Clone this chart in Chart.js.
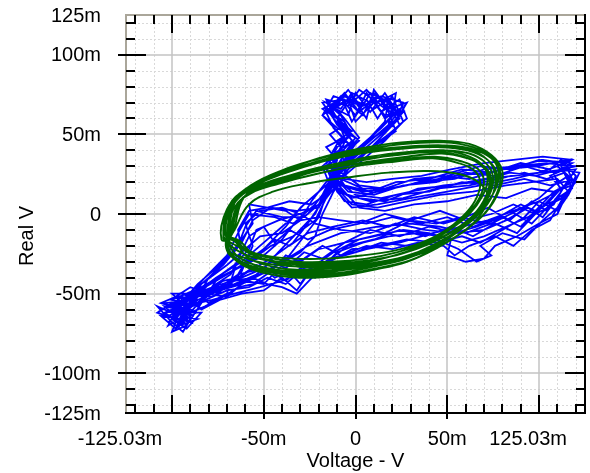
<!DOCTYPE html>
<html>
<head>
<meta charset="utf-8">
<script src="https://cdn.jsdelivr.net/npm/chart.js@4/dist/chart.umd.min.js"></script>
<style>
  html, body { margin: 0; padding: 0; background: #fff; }
  #wrap { width: 590px; height: 473px; position: relative; }
</style>
</head>
<body>
<div id="wrap"><canvas id="chart"></canvas></div>
<script>
// values in mV
const xRange = [-125.03, 125.03];
const yRange = [-125, 125];

const xMinorTicks = [-120, -110, -90, -80, -70, -60, -40, -30, -20, -10, 10, 20, 30, 40, 60, 70, 80, 90, 110, 120];
const xMajorTicks = [-100, -50, 0, 50, 100];
const xLabelValues = [-125.03, -50, 0, 50, 125.03];
const xLabelText = ['-125.03m', '-50m', '0', '50m', '125.03m'];

const yMinorTicks = [-120, -110, -90, -80, -70, -60, -40, -30, -20, -10, 10, 20, 30, 40, 60, 70, 80, 90, 110, 120];
const yMajorTicks = [-100, -50, 0, 50, 100];
const yLabelValues = [125, 100, 50, 0, -50, -100, -125];
const yLabelText = ['125m', '100m', '50m', '0', '-50m', '-100m', '-125m'];

// green trace, one array per turn
const green1 = [[-72,-14],[-68,6],[-58,17],[-42,26],[-20,35],[2,41],[25,45],[46,46],[62,44],[74,37],[80,27],[78,14],[71,1],[60,-10],[46,-20],[30,-29],[12,-34],[-8,-38],[-30,-39],[-49,-36],[-62,-31],[-70,-23]];
const green2 = [[-70,-12],[-66,7],[-56,17],[-40,25],[-18,33],[3,38],[25,41],[45,42],[61,40],[72,34],[77,25],[75,13],[68,1],[57,-10],[44,-19],[28,-27],[11,-32],[-9,-35],[-30,-36],[-48,-34],[-61,-29],[-68,-21]];
const green3 = [[-68,-10],[-63,8],[-52,16],[-36,22],[-15,29],[5,34],[26,38],[46,40],[60,37],[69,31],[72,22],[69,11],[62,0],[51,-10],[38,-18],[23,-24],[6,-28],[-13,-30],[-32,-30],[-49,-27],[-60,-22],[-66,-16]];
const green4 = [[-73,-16],[-70,3],[-61,13],[-45,20],[-24,27],[-2,31],[22,34],[43,36],[58,33],[67,28],[70,20],[67,9],[60,-1],[50,-11],[38,-19],[24,-25],[7,-30],[-12,-33],[-31,-33],[-49,-31],[-62,-27],[-70,-22]];
const green5 = [[-65,-8],[-58,6],[-45,14],[-27,19],[-4,23],[18,26],[40,27],[57,25],[67,20],[72,12],[70,3],[63,-7],[52,-16],[38,-24],[20,-30],[0,-33],[-22,-34],[-42,-31],[-56,-25],[-63,-17]];
const green6 = [[-71,-12],[-67,7],[-57,18],[-41,27],[-19,35],[3,40],[26,44],[48,45],[64,42],[75,35],[79,25],[77,13],[70,0],[59,-11],[45,-21],[28,-30],[10,-35],[-10,-39],[-31,-40],[-50,-37],[-63,-31],[-70,-22]];
const green7 = [[-69,-11],[-65,9],[-55,19],[-38,27],[-17,34],[5,39],[27,42],[48,43],[63,41],[74,35],[78,26],[76,15],[68,2],[56,-10],[43,-19],[27,-27],[10,-32],[-11,-36],[-31,-37],[-49,-35],[-62,-30],[-69,-22]];
const green8 = [[-67,-9],[-62,9],[-51,17],[-34,23],[-13,29],[8,33],[28,36],[47,38],[61,35],[70,30],[74,22],[72,11],[65,0],[54,-10],[41,-18],[25,-25],[8,-29],[-11,-32],[-30,-32],[-47,-29],[-59,-24],[-65,-17]];
const green9 = [[-70,-13],[-66,4],[-57,13],[-42,19],[-22,25],[0,30],[22,33],[42,35],[56,32],[65,27],[68,19],[65,8],[58,-2],[48,-11],[36,-18],[21,-23],[4,-26],[-15,-28],[-34,-28],[-50,-26],[-61,-22],[-68,-18]];
const green10 = [[-72,-15],[-69,5],[-59,16],[-43,25],[-21,33],[1,39],[24,42],[45,43],[61,41],[72,34],[76,25],[75,13],[68,1],[57,-10],[44,-20],[28,-28],[10,-33],[-9,-37],[-30,-38],[-49,-36],[-62,-30],[-70,-23]];
const green11 = [[-66,-9],[-61,10],[-50,19],[-33,25],[-12,31],[8,36],[29,39],[48,40],[62,38],[71,32],[75,23],[73,12],[66,0],[55,-11],[42,-20],[26,-27],[8,-31],[-12,-34],[-32,-35],[-49,-32],[-60,-26],[-65,-18]];
const green12 = [[-71,-13],[-67,5],[-58,15],[-42,22],[-21,29],[1,34],[23,37],[44,39],[59,36],[69,30],[73,22],[71,11],[64,-1],[53,-11],[40,-19],[25,-25],[8,-29],[-11,-31],[-31,-31],[-49,-29],[-61,-25],[-68,-20]];

// blue trace, one array per turn
const blue1 = [[-100,-62],[-92,-70],[-104,-58],[-88,-62],[-96,-52],[-82,-54],[-70,-48],[-58,-46],[-48,-40],[-38,-44],[-28,-34],[-16,-30],[-4,-20],[10,-16],[24,-10],[38,-14],[52,-8],[64,-14],[76,-6],[88,-12],[98,0],[108,6],[114,18],[120,28],[104,26],[92,30],[76,24],[60,26],[44,20],[26,18],[10,12],[-4,14],[-12,24],[-6,38],[2,46],[-8,56],[-14,68],[-4,62],[0,76],[8,64],[16,76],[24,62],[14,50],[4,40],[-8,30],[-14,16],[-20,4],[-32,2],[-46,4],[-56,-4],[-62,-18],[-72,-32],[-86,-46]];
const blue2 = [[-98,-72],[-106,-64],[-92,-66],[-100,-56],[-86,-58],[-80,-50],[-66,-42],[-60,-30],[-52,-24],[-44,-16],[-36,-20],[-26,-12],[-12,-8],[4,-4],[18,-8],[32,-2],[48,-6],[60,-2],[72,4],[84,-4],[96,8],[104,2],[112,14],[108,26],[118,32],[100,34],[84,28],[68,30],[50,24],[32,22],[16,16],[2,18],[-8,26],[-14,36],[-4,44],[-12,54],[-16,64],[-8,74],[-2,58],[6,72],[12,60],[20,74],[26,58],[16,46],[6,36],[-6,24],[-16,10],[-22,-4],[-34,-14],[-46,-20],[-58,-30],[-70,-38],[-82,-46]];
const blue3 = [[-94,-64],[-102,-70],[-96,-56],[-106,-60],[-90,-52],[-84,-60],[-74,-54],[-62,-50],[-50,-48],[-40,-40],[-32,-48],[-26,-38],[-14,-28],[0,-24],[14,-18],[28,-20],[44,-16],[56,-22],[66,-30],[74,-26],[68,-20],[80,-12],[92,-16],[102,-4],[110,4],[116,14],[110,22],[96,20],[82,18],[64,14],[46,12],[28,8],[12,4],[-2,6],[-10,16],[-8,30],[-2,42],[-10,52],[-18,62],[-10,70],[-4,78],[4,66],[12,74],[18,64],[22,52],[12,44],[0,34],[-10,24],[-18,8],[-28,-2],[-40,-2],[-54,2],[-60,-8],[-64,-20],[-74,-32],[-86,-44]];
const blue4 = [[-98,-60],[-90,-68],[-102,-64],[-86,-56],[-94,-50],[-78,-52],[-68,-44],[-62,-36],[-56,-20],[-60,-6],[-52,2],[-40,4],[-30,0],[-22,-6],[-8,-10],[8,-12],[22,-6],[38,-10],[54,-12],[66,-8],[80,-2],[90,-8],[100,4],[112,10],[120,20],[110,30],[116,34],[98,30],[80,28],[62,22],[46,24],[28,18],[12,14],[-2,10],[-14,18],[-18,30],[-8,40],[-4,50],[-12,60],[-18,70],[-6,72],[4,62],[10,76],[20,68],[18,56],[8,46],[-2,36],[-12,26],[-20,14],[-30,4],[-38,-8],[-50,-22],[-62,-32],[-76,-42]];
const blue5 = [[-92,-70],[-100,-74],[-96,-62],[-88,-64],[-104,-56],[-90,-54],[-80,-48],[-72,-42],[-64,-40],[-54,-32],[-46,-36],[-38,-26],[-30,-30],[-20,-22],[-6,-18],[8,-10],[24,-14],[40,-8],[56,-12],[70,-10],[82,-4],[94,4],[102,-2],[110,10],[118,16],[114,26],[104,22],[92,26],[78,22],[62,18],[44,16],[26,10],[8,8],[-4,12],[-14,20],[-10,34],[-16,42],[-6,48],[-10,60],[-2,74],[6,60],[10,78],[18,66],[28,70],[22,58],[10,48],[0,38],[-10,26],[-16,12],[-20,-2],[-28,-14],[-36,-26],[-48,-36],[-62,-44],[-80,-50]];
const blue6 = [[-100,-56],[-108,-62],[-98,-66],[-92,-58],[-100,-50],[-86,-50],[-74,-46],[-64,-38],[-50,-34],[-44,-40],[-36,-36],[-30,-44],[-24,-34],[-12,-24],[2,-16],[16,-12],[30,-4],[44,-6],[58,-2],[72,-6],[84,2],[96,-6],[106,6],[116,12],[120,24],[112,34],[106,28],[90,32],[74,26],[58,28],[40,22],[22,20],[8,14],[-6,18],[-12,28],[-4,36],[-10,46],[-2,52],[-12,62],[-16,72],[-4,68],[2,78],[12,70],[22,76],[20,62],[12,52],[2,40],[-8,28],[-14,14],[-24,6],[-36,8],[-48,4],[-58,6],[-56,-6],[-62,-16],[-70,-28],[-80,-40]];
const blue7 = [[-88,-56],[-96,-62],[-84,-62],[-92,-72],[-100,-66],[-94,-56],[-82,-50],[-70,-52],[-60,-42],[-50,-44],[-40,-32],[-28,-28],[-18,-20],[-8,-26],[6,-20],[20,-22],[34,-18],[48,-20],[54,-26],[62,-20],[76,-14],[86,-20],[96,-10],[106,-4],[112,8],[118,18],[108,14],[96,16],[82,10],[66,12],[50,8],[32,6],[16,2],[2,4],[-6,14],[-14,24],[-10,36],[-2,46],[-8,58],[-14,66],[-6,76],[2,64],[10,72],[16,60],[24,66],[14,54],[4,44],[-6,32],[-16,20],[-24,8],[-30,-4],[-40,-12],[-52,-14],[-60,-22],[-70,-32],[-84,-44]];
const blue8 = [[-96,-68],[-104,-62],[-92,-56],[-100,-54],[-88,-48],[-80,-56],[-70,-50],[-64,-28],[-58,-14],[-50,-8],[-44,-18],[-36,-10],[-26,-16],[-14,-10],[2,-6],[16,0],[30,-4],[46,2],[60,-4],[74,0],[86,6],[98,0],[108,12],[116,20],[112,30],[118,34],[102,36],[86,34],[70,32],[52,28],[36,24],[20,22],[6,20],[-6,22],[-14,30],[-8,42],[-14,50],[-6,56],[-16,66],[-6,70],[0,62],[6,76],[14,64],[24,72],[28,60],[18,50],[6,40],[-4,28],[-12,14],[-18,0],[-22,-14],[-30,-24],[-42,-32],[-56,-40],[-74,-48],[-90,-56]];
const blue9 = [[-102,-68],[-94,-60],[-106,-56],[-98,-52],[-90,-62],[-84,-54],[-76,-46],[-66,-44],[-54,-38],[-46,-30],[-38,-34],[-28,-24],[-18,-28],[-6,-18],[10,-14],[26,-10],[40,-12],[52,-16],[50,-26],[60,-30],[70,-28],[76,-20],[88,-14],[100,-6],[110,0],[114,10],[120,22],[106,18],[92,22],[76,18],[58,20],[40,14],[22,12],[6,6],[-6,8],[-12,18],[-16,30],[-6,38],[0,48],[-10,54],[-18,62],[-12,74],[-2,70],[6,78],[14,68],[22,62],[14,50],[4,40],[-6,30],[-16,18],[-28,6],[-38,-6],[-50,-18],[-62,-30],[-76,-40],[-90,-52]];
const blue10 = [[-98,-58],[-90,-60],[-96,-70],[-86,-66],[-94,-64],[-82,-58],[-72,-52],[-64,-46],[-56,-44],[-46,-36],[-38,-42],[-30,-34],[-22,-40],[-14,-30],[-2,-22],[12,-20],[28,-16],[44,-18],[58,-14],[68,-18],[80,-10],[92,-2],[100,8],[110,2],[116,12],[122,26],[112,28],[98,24],[84,26],[66,20],[48,18],[30,14],[14,10],[0,12],[-8,20],[-4,32],[-12,40],[-4,48],[-6,58],[-14,64],[-4,72],[0,58],[10,70],[16,62],[26,64],[16,52],[6,42],[-4,32],[-14,20],[-20,6],[-30,0],[-42,-4],[-54,-10],[-58,-22],[-66,-32],[-78,-42]];
const blue11 = [[-94,-60],[-86,-54],[-98,-52],[-90,-46],[-80,-50],[-76,-44],[-68,-38],[-62,-24],[-64,-10],[-58,2],[-48,4],[-38,2],[-30,-4],[-20,-2],[-8,-4],[6,-6],[20,-2],[36,-6],[50,-2],[64,-8],[78,-2],[90,6],[98,2],[108,14],[118,20],[112,28],[120,30],[104,32],[88,30],[70,28],[54,22],[36,20],[18,16],[4,16],[-8,22],[-16,32],[-10,44],[-2,50],[-8,62],[-16,70],[-8,66],[-2,76],[8,70],[18,72],[16,58],[8,48],[-2,38],[-12,26],[-18,12],[-26,0],[-34,-6],[-44,-2],[-58,0],[-64,-12],[-70,-26],[-82,-40]];
const blue12 = [[-100,-62],[-108,-58],[-100,-68],[-94,-74],[-90,-66],[-98,-58],[-86,-52],[-76,-48],[-66,-42],[-56,-40],[-48,-44],[-40,-46],[-32,-50],[-22,-38],[-10,-24],[4,-18],[18,-14],[34,-12],[46,-14],[58,-18],[70,-14],[82,-8],[94,-2],[104,6],[112,16],[106,24],[114,28],[100,26],[86,24],[70,22],[52,18],[34,16],[16,8],[2,10],[-10,14],[-14,26],[-6,34],[0,44],[-10,56],[-14,64],[-6,74],[4,68],[8,76],[18,70],[24,56],[14,46],[2,36],[-8,26],[-16,14],[-22,0],[-32,-12],[-42,-24],[-50,-34],[-62,-40],[-78,-46],[-92,-52]];
const blue13 = [[-96,-70],[-100,-62],[-90,-60],[-104,-62],[-86,-56],[-76,-48],[-64,-44],[-52,-38],[-40,-30],[-26,-20],[-8,-12],[12,-8],[30,-6],[46,-8],[60,-12],[74,-6],[88,2],[100,10],[108,18],[116,24],[110,30],[100,26],[86,22],[68,18],[50,14],[30,10],[12,6],[-2,4],[-10,14],[-12,26],[-6,38],[2,48],[-6,60],[-12,68],[-2,72],[10,66],[18,72],[24,60],[14,50],[4,40],[-6,30],[-14,18],[-22,6],[-32,-4],[-40,-16],[-50,-26],[-64,-34],[-78,-42],[-90,-50]];
const blue14 = [[-98,-72],[-90,-64],[-100,-58],[-86,-56],[-78,-54],[-66,-50],[-52,-46],[-40,-42],[-28,-36],[-12,-28],[6,-22],[24,-18],[42,-12],[58,-8],[72,-4],[86,2],[100,8],[110,14],[118,22],[114,32],[102,34],[88,30],[72,26],[54,24],[36,20],[18,16],[4,14],[-8,18],[-16,28],[-10,42],[-2,50],[-10,60],[-18,66],[-8,72],[4,68],[14,74],[26,70],[22,58],[12,46],[2,34],[-10,22],[-18,8],[-26,-6],[-34,-18],[-46,-28],[-58,-36],[-72,-46],[-84,-54],[-94,-62]];

const toPts = arr => arr.map(p => ({ x: p[0], y: p[1] }));
const greenPts = toPts([].concat(green1, green2, green3, green4, green5, green6, green7, green8, green9, green10, green11, green12, [green1[0]]));
const bluePts = toPts([].concat(blue1, blue2, blue3, blue4, blue5, blue6, blue7, blue8, blue9, blue10, blue11, blue12, blue13, blue14));

const FONT = '20px "Liberation Sans", Arial, sans-serif';

const frame = {
  id: 'frame',
  beforeDatasetsDraw(chart) {
    const { ctx, chartArea: a, scales: { x, y } } = chart;
    ctx.save();
    ctx.fillStyle = '#fff';
    ctx.fillRect(a.left, a.top, a.right - a.left, a.bottom - a.top);
    ctx.lineWidth = 1;
    // minor grid, dotted
    ctx.strokeStyle = '#d9d9d9';
    ctx.setLineDash([2, 2]);
    ctx.beginPath();
    xMinorTicks.forEach(v => { const px = Math.round(x.getPixelForValue(v)) + 0.5; ctx.moveTo(px, a.top); ctx.lineTo(px, a.bottom); });
    yMinorTicks.forEach(v => { const py = Math.round(y.getPixelForValue(v)) + 0.5; ctx.moveTo(a.left, py); ctx.lineTo(a.right, py); });
    ctx.stroke();
    // major grid
    ctx.setLineDash([]);
    ctx.strokeStyle = '#c4c4c4';
    ctx.lineWidth = 1.5;
    ctx.beginPath();
    xMajorTicks.forEach(v => { const px = Math.round(x.getPixelForValue(v)); ctx.moveTo(px, a.top); ctx.lineTo(px, a.bottom); });
    yMajorTicks.forEach(v => { const py = Math.round(y.getPixelForValue(v)); ctx.moveTo(a.left, py); ctx.lineTo(a.right, py); });
    ctx.stroke();
    ctx.restore();
  },
  afterDatasetsDraw(chart) {
    const { ctx, chartArea: a, scales: { x, y } } = chart;
    ctx.save();
    // border: grey on left/top, black on right/bottom
    ctx.lineWidth = 2;
    ctx.strokeStyle = '#aaa69a';
    ctx.beginPath();
    ctx.moveTo(a.left, a.bottom); ctx.lineTo(a.left, a.top); ctx.lineTo(a.right, a.top);
    ctx.stroke();
    ctx.strokeStyle = '#000';
    ctx.beginPath();
    ctx.moveTo(a.left - 1, a.bottom); ctx.lineTo(a.right, a.bottom); ctx.lineTo(a.right, a.top - 1);
    ctx.stroke();

    // tick marks drawn inward on all four sides
    ctx.beginPath();
    const xTick = (v, len, out) => {
      const px = Math.round(x.getPixelForValue(v));
      ctx.moveTo(px, a.bottom + out); ctx.lineTo(px, a.bottom - len);
      ctx.moveTo(px, a.top); ctx.lineTo(px, a.top + len);
    };
    const yTick = (v, len, out) => {
      const py = Math.round(y.getPixelForValue(v));
      ctx.moveTo(a.left - out, py); ctx.lineTo(a.left + len, py);
      ctx.moveTo(a.right, py); ctx.lineTo(a.right - len, py);
    };
    xMinorTicks.forEach(v => xTick(v, 9, 0));
    xMajorTicks.forEach(v => xTick(v, 18, xLabelValues.includes(v) ? 6 : 0));
    yMinorTicks.forEach(v => yTick(v, 9, 0));
    yMajorTicks.forEach(v => yTick(v, 20, yLabelValues.includes(v) ? 8 : 0));
    ctx.stroke();

    // tick labels
    ctx.fillStyle = '#000';
    ctx.font = FONT;
    ctx.textBaseline = 'middle';
    ctx.textAlign = 'right';
    yLabelValues.forEach((v, i) => ctx.fillText(yLabelText[i], 101, y.getPixelForValue(v) + 1));
    ctx.textAlign = 'center';
    xLabelValues.forEach((v, i) => {
      const w = ctx.measureText(xLabelText[i]).width;
      let cx = x.getPixelForValue(v);
      if (i === 0) cx -= 6;
      if (cx + w / 2 > chart.width - 23) cx = chart.width - 23 - w / 2;
      ctx.fillText(xLabelText[i], cx, 439);
    });

    // axis titles
    ctx.textBaseline = 'alphabetic';
    ctx.fillText('Voltage - V', (a.left + a.right) / 2, 467);
    ctx.translate(33, 236);
    ctx.rotate(-Math.PI / 2);
    ctx.fillText('Real V', 0, 0);
    ctx.restore();
  }
};

new Chart(document.getElementById('chart'), {
  type: 'scatter',
  data: {
    datasets: [
      { data: greenPts, showLine: true, borderColor: '#006400', borderWidth: 1.9, tension: 0.4, pointRadius: 0 },
      { data: bluePts, showLine: true, borderColor: '#0000ff', borderWidth: 1.8, tension: 0, pointRadius: 0 }
    ]
  },
  options: {
    responsive: true,
    maintainAspectRatio: false,
    animation: false,
    layout: { padding: { left: 126, top: 15, right: 5, bottom: 60 } },
    plugins: { legend: { display: false }, tooltip: { enabled: false } },
    scales: {
      x: { type: 'linear', display: false, min: xRange[0], max: xRange[1] },
      y: { type: 'linear', display: false, min: yRange[0], max: yRange[1] }
    }
  },
  plugins: [frame]
});
</script>
</body>
</html>
